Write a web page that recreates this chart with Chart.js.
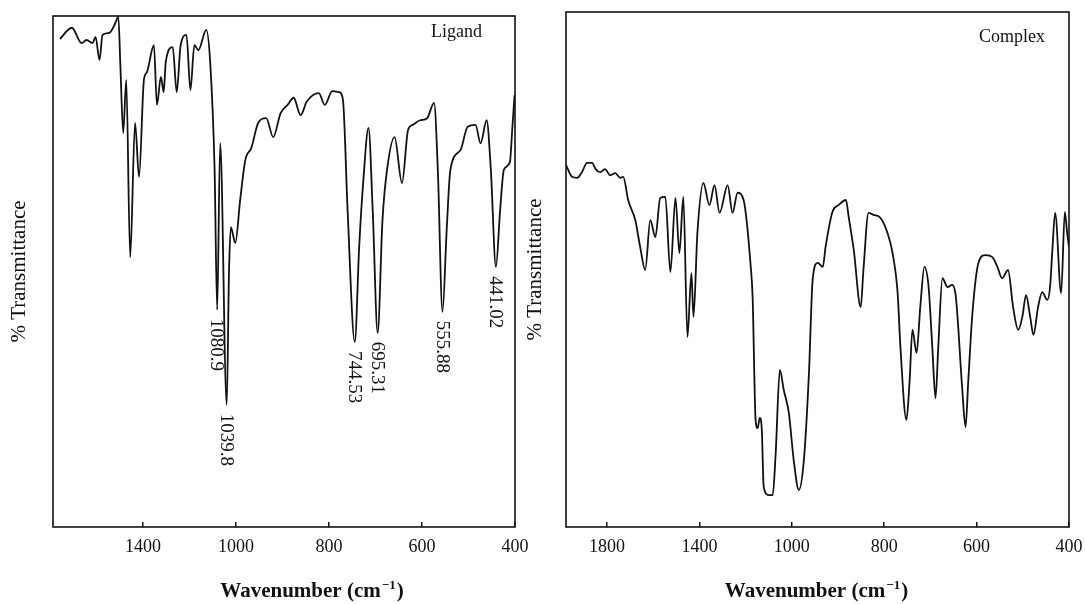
<!DOCTYPE html>
<html>
<head>
<meta charset="utf-8">
<script src="https://cdn.jsdelivr.net/npm/chart.js@4.4.0/dist/chart.umd.min.js"></script>
<style>
  html, body { margin: 0; padding: 0; background: #fff; }
  #wrap { position: relative; width: 1086px; height: 604px; overflow: hidden; }
  .panel { position: absolute; top: 0; height: 604px; }
  #ligandBox { left: 0; width: 545px; }
  #complexBox { left: 520px; width: 566px; }
</style>
</head>
<body>
<div id="wrap">
  <div class="panel" id="ligandBox"><canvas id="ligandChart"></canvas></div>
  <div class="panel" id="complexBox"><canvas id="complexChart"></canvas></div>
</div>
<script>
// ============================================================
// IR spectra: ligand vs complex (% transmittance, cm-1)
// x axis has a 2:1 scale change at 1000 cm-1
// ============================================================

const SERIF = '"Liberation Serif", "DejaVu Serif", serif';
const INK = '#111';

// ----- Ligand spectrum -----
const LIG_WN = [
  1757, 1706, 1664, 1643, 1617, 1604, 1587, 1574, 1545, 1523, 1506, 1497, 1485, 1472, 1455,
  1434, 1417, 1396, 1383, 1353, 1340, 1323, 1311, 1302, 1272, 1255, 1238, 1213, 1196, 1179,
  1162, 1128, 1111, 1092, 1080.9, 1068, 1039.8, 1030, 1022, 1003, 991, 980, 967, 952, 935,
  920, 904, 889, 876, 861, 848, 822, 809, 793, 778, 770, 760, 744.53, 735, 726,
  715, 706, 695.31, 685, 676, 659, 643, 630, 620, 604, 589, 574, 566, 555.88, 547,
  539, 517, 502, 485, 474, 461, 452, 441.02, 432, 424, 411, 406, 401
];
const LIG_T = [
  95.5, 97.7, 94.7, 95.3, 94.7, 95.9, 91.4, 96.3, 96.7, 98.2, 99.8, 90, 77.1, 87.5, 52.8,
  79.1, 68.5, 87.5, 89.0, 94.3, 82.6, 88.1, 85.1, 91.0, 93.9, 85.1, 94.3, 96.3, 85.5, 94.3,
  93.3, 97.3, 91.0, 70, 42.5, 75.1, 23.9, 50, 58.7, 55.6, 64.0, 71.8, 74.2, 79.1, 80.0,
  76.3, 81.0, 82.6, 84.0, 80.6, 83.2, 84.9, 82.6, 85.3, 85.1, 83.6, 62, 36.2, 55, 68,
  78.1, 62, 38.0, 60, 69.3, 76.3, 67.3, 77.7, 78.7, 79.6, 80.0, 83.0, 70, 42.1, 58,
  69.9, 73.8, 78.3, 78.7, 75.1, 79.6, 70, 50.9, 62, 69.9, 71.4, 77.7, 84.5
];
const LIG_PEAKS = ['1080.9', '1039.8', '744.53', '695.31', '555.88', '441.02'];
const LIG_TICKS = [1400, 1000, 800, 600, 400];

// ----- Complex spectrum -----
const CPX_WN = [
  1978, 1970, 1952, 1930, 1909, 1887, 1865, 1850, 1830, 1809, 1787, 1765, 1743, 1730, 1709,
  1678, 1657, 1635, 1613, 1591, 1570, 1548, 1526, 1504, 1487, 1470, 1452, 1435, 1426, 1409,
  1383, 1357, 1335, 1313, 1278, 1257, 1235, 1209, 1178, 1170, 1157, 1148, 1139, 1130, 1122,
  1100, 1083, 1070, 1052, 1035, 1013, 996, 985, 974, 963, 955, 944, 933, 927, 912,
  899, 883, 877, 866, 851, 845, 834, 823, 808, 793, 782, 771, 765, 752, 745,
  739, 730, 722, 713, 704, 696, 689, 683, 674, 663, 653, 646, 642, 631, 624,
  618, 609, 596, 581, 566, 555, 545, 532, 521, 510, 501, 493, 484, 477, 467,
  458, 447, 441, 436, 430, 417, 409, 404, 400
];
const CPX_T = [
  70.3, 69.5, 68.0, 67.8, 68.9, 70.7, 70.7, 69.5, 68.9, 69.5, 68.3, 68.7, 67.8, 68.0, 63.5,
  59.6, 54.4, 49.9, 59.6, 56.3, 63.9, 64.1, 49.5, 63.9, 53.2, 64.1, 36.9, 49.3, 40.8, 57.1,
  66.8, 62.5, 66.4, 61.0, 66.4, 61.0, 64.9, 63.5, 50.5, 44.7, 20.8, 19.2, 21.2, 18.8, 7.8,
  6.2, 6.2, 14.4, 30.5, 26.6, 22.1, 13.0, 7.2, 13.0, 29.9, 48.0, 51.3, 50.5, 54.4, 61.2,
  62.5, 63.5, 60.2, 53.8, 42.7, 50, 61.0, 60.6, 60.0, 57.1, 53.2, 45.4, 35.0, 20.8, 28.5,
  38.3, 33.8, 42.7, 50.5, 46.6, 35.0, 25.0, 35.0, 48.3, 46.6, 47.0, 45.4, 41.6, 26.6, 19.4,
  28.5, 41.6, 51.3, 52.8, 52.4, 50.5, 48.3, 49.9, 42.7, 38.3, 40.8, 45.0, 40.8, 37.3, 42.7,
  45.6, 44.1, 46.6, 53.8, 61.0, 45.4, 61.2, 57.1, 54.4
];
const CPX_PEAKS = [];
const CPX_TICKS = [1800, 1400, 1000, 800, 600, 400];

// Linear scale, reversed, with the part above `breakAt` squeezed by `upperRatio`
class BreakScale extends Chart.LinearScale {
  _units(v) {
    const brk = this.options.breakAt, r = this.options.upperRatio;
    return v >= brk ? (this.max - v) * r : (this.max - brk) * r + (brk - v);
  }
  getPixelForValue(value) {
    if (value === null || isNaN(value)) return NaN;
    return this.getPixelForDecimal(this._units(value) / this._units(this.min));
  }
  getValueForPixel(pixel) {
    const brk = this.options.breakAt, r = this.options.upperRatio;
    const u = this.getDecimalForPixel(pixel) * this._units(this.min);
    const uBrk = (this.max - brk) * r;
    return u <= uBrk ? this.max - u / r : brk - (u - uBrk);
  }
}
BreakScale.id = 'break';
BreakScale.defaults = Chart.LinearScale.defaults;
Chart.register(BreakScale);

// box around the plot area
const framePlugin = {
  id: 'frame',
  afterDraw(chart) {
    const { ctx, chartArea: a } = chart;
    ctx.save();
    ctx.strokeStyle = INK;
    ctx.lineWidth = 1.6;
    ctx.strokeRect(a.left, a.top, a.right - a.left, a.bottom - a.top);
    ctx.restore();
  }
};

// panel name, peak labels and the x title with its superscript
const notesPlugin = {
  id: 'notes',
  afterDraw(chart, args, opts) {
    const { ctx, chartArea: a, scales: { x } } = chart;
    ctx.save();
    ctx.fillStyle = INK;

    ctx.font = '18px ' + SERIF;
    ctx.textAlign = 'right';
    ctx.textBaseline = 'middle';
    ctx.fillText(opts.name, a.right - opts.nameDx, a.top + opts.nameDy);

    // peak labels, read downward, just under each minimum
    const pts = chart.getDatasetMeta(0).data;
    const wn = chart.data.datasets[0].data.map(p => p.x);
    ctx.font = '19px ' + SERIF;
    ctx.textAlign = 'left';
    opts.peaks.forEach(label => {
      const v = parseFloat(label);
      let best = 0;
      wn.forEach((w, i) => { if (Math.abs(w - v) < Math.abs(wn[best] - v)) best = i; });
      ctx.save();
      ctx.translate(x.getPixelForValue(v) - 1, pts[best].y + 9);
      ctx.rotate(Math.PI / 2);
      ctx.fillText(label, 0, 0);
      ctx.restore();
    });

    // "Wavenumber (cm-1)"
    const main = 'bold 21px ' + SERIF, sup = 'bold 13px ' + SERIF;
    const t1 = 'Wavenumber (cm', t2 = '\u22121', t3 = ')';
    ctx.font = main; const w1 = ctx.measureText(t1).width, w3 = ctx.measureText(t3).width;
    ctx.font = sup; const w2 = ctx.measureText(t2).width;
    let cx = (a.left + a.right) / 2 + opts.titleDx - (w1 + w2 + w3) / 2;
    const ty = opts.titleY;
    ctx.textAlign = 'left';
    ctx.textBaseline = 'alphabetic';
    ctx.font = main; ctx.fillText(t1, cx, ty); cx += w1;
    ctx.font = sup; ctx.fillText(t2, cx + 1, ty - 8); cx += w2 + 2;
    ctx.font = main; ctx.fillText(t3, cx, ty);
    ctx.restore();
  }
};

function makeSpectrum(canvasId, wn, trans, cfg) {
  return new Chart(document.getElementById(canvasId), {
    type: 'line',
    data: {
      datasets: [{
        data: wn.map((w, i) => ({ x: w, y: trans[i] })),
        borderColor: INK,
        borderWidth: 1.8,
        pointRadius: 0,
        fill: false,
        cubicInterpolationMode: 'monotone'
      }]
    },
    options: {
      responsive: true,
      maintainAspectRatio: false,
      animation: false,
      events: [],
      layout: { padding: { top: cfg.padTop, right: cfg.padRight, left: 0, bottom: 0 } },
      plugins: {
        legend: { display: false },
        tooltip: { enabled: false },
        notes: {
          name: cfg.name, nameDx: cfg.nameDx, nameDy: cfg.nameDy,
          peaks: cfg.peaks, titleDx: cfg.titleDx, titleY: 597
        }
      },
      scales: {
        x: {
          type: 'break',
          min: 400,
          max: cfg.maxWn,
          breakAt: 1000,
          upperRatio: 0.5,
          afterBuildTicks: s => { s.ticks = cfg.ticks.map(v => ({ value: v })); },
          // keep the plot edge where the frame is; end labels may overhang
          afterFit: s => { s.height = 77; s.paddingLeft = 0; s.paddingRight = 0; },
          border: { display: false },
          grid: { drawOnChartArea: false, tickLength: -5, color: INK, lineWidth: 1.5 },
          ticks: {
            color: INK,
            padding: 14,
            maxRotation: 0,
            autoSkip: false,
            font: { family: SERIF, size: 18 },
            callback: v => String(v)
          }
        },
        y: {
          min: 0,
          max: 100,
          afterFit: s => { s.width = cfg.yWidth; },
          border: { display: false },
          grid: { display: false },
          ticks: { display: false },
          title: {
            display: true,
            text: '% Transmittance',
            color: INK,
            padding: { top: cfg.yTitlePad, bottom: 0 },
            font: { family: SERIF, size: 21 }
          }
        }
      }
    },
    plugins: [framePlugin, notesPlugin]
  });
}

makeSpectrum('ligandChart', LIG_WN, LIG_T, {
  name: 'Ligand', nameDx: 33, nameDy: 16,
  peaks: LIG_PEAKS, ticks: LIG_TICKS, maxWn: 1787,
  padTop: 16, padRight: 30, yWidth: 53, yTitlePad: 7, titleDx: 27
});

makeSpectrum('complexChart', CPX_WN, CPX_T, {
  name: 'Complex', nameDx: 24, nameDy: 25,
  peaks: CPX_PEAKS, ticks: CPX_TICKS, maxWn: 1978,
  padTop: 12, padRight: 17, yWidth: 46, yTitlePad: 3, titleDx: -2
});
</script>
</body>
</html>
